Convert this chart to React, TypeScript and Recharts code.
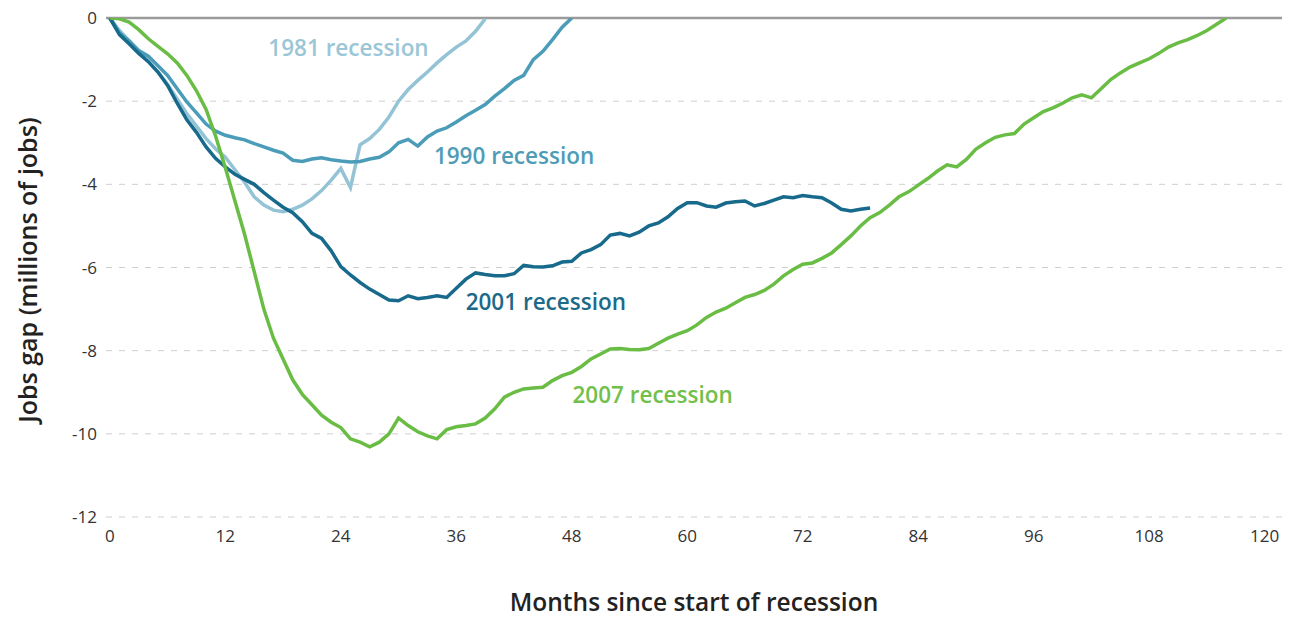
import { LineChart, Line, XAxis, YAxis, CartesianGrid, ReferenceLine, ReferenceDot, Label } from "recharts";

// jobs gap in millions, one value per month since the start of each recession
const gap1981 = [
  0, -0.3, -0.55, -0.8, -1.05, -1.3, -1.6, -1.95, -2.3, -2.6, -2.9, -3.15, -3.35, -3.65, -3.95, -4.3,
  -4.5, -4.62, -4.66, -4.6, -4.5, -4.35, -4.15, -3.9, -3.62, -4.08, -3.05, -2.9, -2.68, -2.38, -2.0,
  -1.72, -1.5, -1.3, -1.08, -0.88, -0.7, -0.55, -0.32, -0.02,
];

const gap1990 = [
  0, -0.36, -0.55, -0.78, -0.92, -1.15, -1.38, -1.7, -2.02, -2.28, -2.55, -2.72, -2.82, -2.88, -2.93,
  -3.02, -3.1, -3.18, -3.25, -3.42, -3.45, -3.39, -3.36, -3.41, -3.44, -3.46, -3.45, -3.39, -3.35,
  -3.22, -3.0, -2.92, -3.08, -2.86, -2.72, -2.64, -2.5, -2.35, -2.22, -2.08, -1.88, -1.7, -1.5, -1.38,
  -1.0, -0.8, -0.52, -0.22, 0,
];

const gap2001 = [
  0, -0.4, -0.62, -0.85, -1.05, -1.3, -1.62, -2.05, -2.45, -2.75, -3.1, -3.38, -3.58, -3.76, -3.88,
  -4.0, -4.2, -4.38, -4.55, -4.68, -4.9, -5.18, -5.3, -5.6, -5.98, -6.18, -6.36, -6.52, -6.65, -6.78,
  -6.8, -6.68, -6.75, -6.72, -6.68, -6.72, -6.5, -6.28, -6.13, -6.17, -6.2, -6.2, -6.15, -5.95, -5.98,
  -5.99, -5.96, -5.87, -5.85, -5.65, -5.57, -5.45, -5.22, -5.18, -5.24, -5.15, -5.0, -4.93, -4.78,
  -4.58, -4.44, -4.44, -4.52, -4.55, -4.45, -4.42, -4.4, -4.52, -4.46, -4.38, -4.3, -4.32, -4.27,
  -4.3, -4.32, -4.45, -4.6, -4.64, -4.6, -4.57,
];

const gap2007 = [
  0, -0.02, -0.1, -0.28, -0.5, -0.68, -0.86, -1.08, -1.38, -1.75, -2.2, -2.85, -3.6, -4.4, -5.2, -6.1,
  -7.0, -7.7, -8.2, -8.7, -9.05, -9.3, -9.55, -9.72, -9.85, -10.12, -10.2, -10.31, -10.2, -10.0, -9.62,
  -9.8, -9.95, -10.05, -10.12, -9.9, -9.83, -9.8, -9.76, -9.62, -9.4, -9.12, -9.0, -8.92, -8.9, -8.88,
  -8.72, -8.6, -8.52, -8.38, -8.2, -8.08, -7.96, -7.95, -7.97, -7.98, -7.95, -7.82, -7.7, -7.6, -7.52,
  -7.38, -7.2, -7.07, -6.98, -6.85, -6.72, -6.65, -6.55, -6.4, -6.2, -6.05, -5.92, -5.89, -5.78, -5.65,
  -5.45, -5.24, -5.0, -4.8, -4.68, -4.5, -4.3, -4.18, -4.02, -3.86, -3.68, -3.53, -3.58, -3.4, -3.15,
  -3.0, -2.87, -2.81, -2.78, -2.55, -2.4, -2.25, -2.16, -2.05, -1.92, -1.85, -1.92, -1.7, -1.48, -1.32,
  -1.18, -1.08, -0.98, -0.85, -0.7, -0.6, -0.52, -0.42, -0.3, -0.15, 0,
];

const monthTicks = [0, 12, 24, 36, 48, 60, 72, 84, 96, 108, 120];
const gapTicks = [0, -2, -4, -6, -8, -10, -12];

const series = [
  { name: "1981 recession", values: gap1981, color: "#93c3d5", text: "#9ac6d6", at: [24.8, -0.72] },
  { name: "1990 recession", values: gap1990, color: "#4a9cb8", text: "#4f9cb7", at: [42, -3.32] },
  { name: "2001 recession", values: gap2001, color: "#176a8b", text: "#1c6a89", at: [45.3, -6.83] },
  { name: "2007 recession", values: gap2007, color: "#6abd44", text: "#72bf4a", at: [56.4, -9.06] },
];

const font = "'Open Sans', 'Noto Sans', sans-serif";

export default function App() {
  return (
    <div style={{ position: "absolute", left: 0, top: 0, width: 1301, height: 617, background: "#fff" }}>
      <LineChart width={1301} height={617} margin={{ top: 18, right: 19, bottom: 0, left: 0 }}>
        <CartesianGrid vertical={false} stroke="#cfcfcf" strokeDasharray="6 7" />
        <XAxis
          type="number"
          dataKey="m"
          domain={[-0.4, 121.8]}
          ticks={monthTicks}
          allowDataOverflow
          axisLine={false}
          tickLine={false}
          tickSize={0}
          tickMargin={13}
          height={100}
          tick={{ fill: "#333", fontSize: 17, fontFamily: font }}
        >
          <Label
            value="Months since start of recession"
            position="insideBottom"
            offset={6}
            style={{ fill: "#222", fontSize: 24.5, fontWeight: 600, fontFamily: font }}
          />
        </XAxis>
        <YAxis
          type="number"
          domain={[-12, 0]}
          ticks={gapTicks}
          allowDataOverflow
          axisLine={false}
          tickLine={false}
          tickSize={0}
          tickMargin={9}
          width={106}
          tick={{ fill: "#333", fontSize: 17, fontFamily: font }}
        >
          <Label
            content={() => (
              <text
                x={27}
                y={270}
                transform="rotate(-90 27 270)"
                textAnchor="middle"
                dominantBaseline="central"
                style={{ fill: "#222", fontSize: 25, fontWeight: 600, fontFamily: font }}
              >
                Jobs gap (millions of jobs)
              </text>
            )}
          />
        </YAxis>
        <ReferenceLine y={0} stroke="#9a9a9a" strokeWidth={2.5} />
        {series.map((s) => (
          <Line
            key={s.name}
            data={s.values.map((v, i) => ({ m: i, v }))}
            dataKey="v"
            type="linear"
            stroke={s.color}
            strokeWidth={3.5}
            dot={false}
            activeDot={false}
            isAnimationActive={false}
          />
        ))}
        {series.map((s) => (
          <ReferenceDot
            key={s.name + "-label"}
            x={s.at[0]}
            y={s.at[1]}
            r={0}
            fill="none"
            stroke="none"
            label={{
              value: s.name,
              position: "center",
              fill: s.text,
              fontSize: 22.5,
              fontWeight: 600,
              fontFamily: font,
            }}
          />
        ))}
      </LineChart>
    </div>
  );
}
